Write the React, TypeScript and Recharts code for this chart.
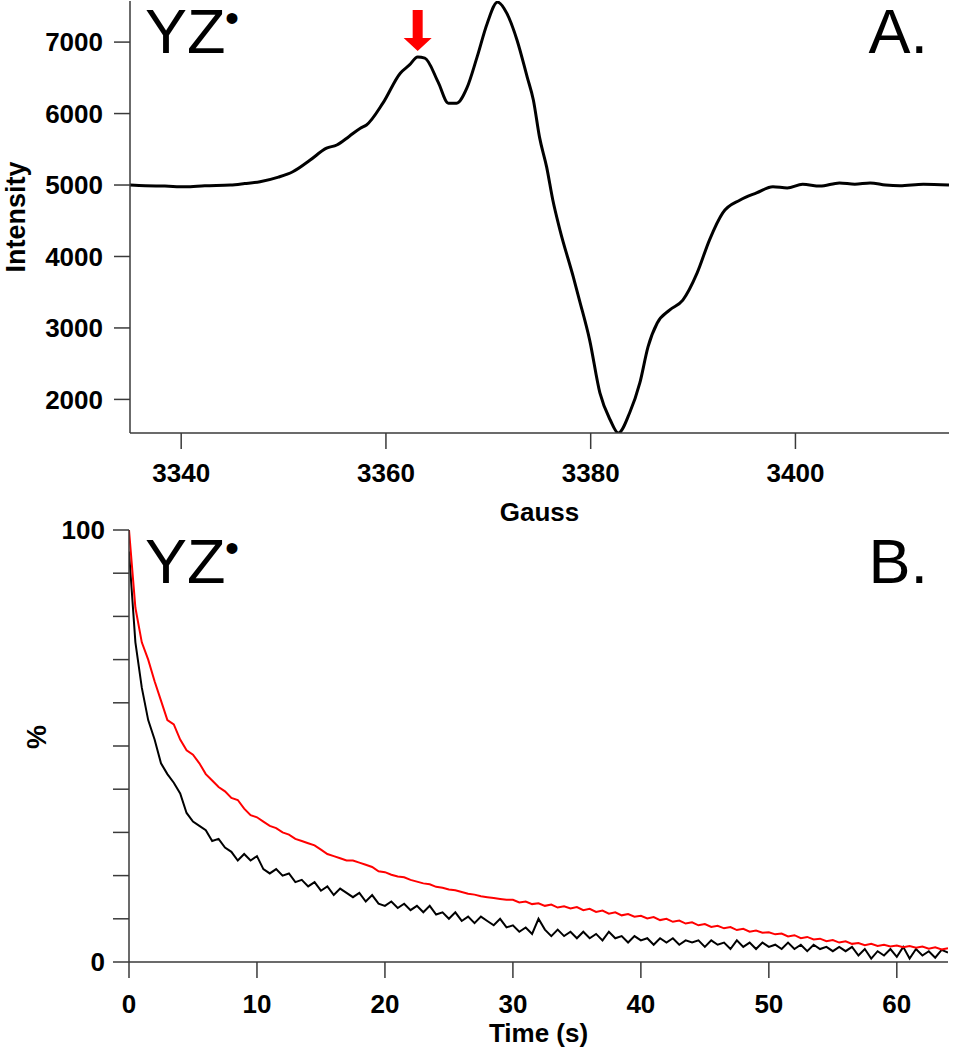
import React from "react";
import { LineChart, Line, XAxis, YAxis, ReferenceDot } from "recharts";

// Panel A: EPR spectrum
const gaussField = [
  3335.0, 3336.5, 3338.4, 3340.4, 3342.3, 3344.8, 3346.2, 3347.7, 3349.5, 3350.9,
  3352.6, 3354.2, 3355.2, 3356.4, 3357.5, 3358.1, 3359.7, 3361.4, 3362.3, 3363.1,
  3363.8, 3365.1, 3366.1, 3366.9, 3367.9, 3368.9, 3369.9, 3370.9, 3371.8, 3372.8,
  3373.8, 3374.4, 3375.0, 3375.7, 3376.3, 3377.0, 3378.3, 3378.9, 3379.9, 3380.9,
  3381.9, 3382.7, 3383.8, 3384.8, 3385.6, 3386.5, 3387.7, 3389.0, 3390.4, 3391.6,
  3392.9, 3394.6, 3396.2, 3397.8, 3399.2, 3400.7, 3402.4, 3404.3, 3405.8, 3407.3,
  3408.8, 3410.2, 3412.5, 3415.0,
];
const intensity = [
  5000, 4990, 4985, 4975, 4990, 5000, 5020, 5046, 5110, 5186,
  5350, 5515, 5560, 5680, 5795, 5840, 6145, 6565, 6680, 6790,
  6775, 6440, 6145, 6145, 6355, 6790, 7265, 7560, 7405, 7030,
  6510, 6190, 5670, 5250, 4790, 4370, 3715, 3390, 2830, 2090,
  1715, 1530, 1810, 2230, 2735, 3070, 3250, 3390, 3770, 4230,
  4610, 4790, 4890, 4975, 4960, 5010, 4985, 5030, 5010, 5030,
  5000, 4990, 5010, 5000,
];
const gaussTicks = [3340, 3360, 3380, 3400];
const intensityTicks = [2000, 3000, 4000, 5000, 6000, 7000];
const arrowTarget = { gauss: 3363.1, intensity: 6790 };

// Panel B: decay traces (%)
const decayTime = [
  0, 0.5, 1, 1.5, 2, 2.5, 3, 3.5, 4, 4.5, 5, 5.5, 6, 6.5, 7, 7.5, 8, 8.5, 9, 9.5,
  10, 10.5, 11, 11.5, 12, 12.5, 13, 13.5, 14, 14.5, 15, 15.5, 16, 16.5, 17, 17.5, 18, 18.5, 19, 19.5,
  20, 20.5, 21, 21.5, 22, 22.5, 23, 23.5, 24, 24.5, 25, 25.5, 26, 26.5, 27, 27.5, 28, 28.5, 29, 29.5,
  30, 30.5, 31, 31.5, 32, 32.5, 33, 33.5, 34, 34.5, 35, 35.5, 36, 36.5, 37, 37.5, 38, 38.5, 39, 39.5,
  40, 40.5, 41, 41.5, 42, 42.5, 43, 43.5, 44, 44.5, 45, 45.5, 46, 46.5, 47, 47.5, 48, 48.5, 49, 49.5,
  50, 50.5, 51, 51.5, 52, 52.5, 53, 53.5, 54, 54.5, 55, 55.5, 56, 56.5, 57, 57.5, 58, 58.5, 59, 59.5,
  60, 60.5, 61, 61.5, 62, 62.5, 63, 63.5, 64,
];
const blackDecay = [
  95, 74, 63.5, 56, 51.5, 46, 43.5, 41.5, 39, 34.5, 32.5, 31.5, 30.5, 28, 28.5, 26.5, 25.5, 23.5, 25, 23.5,
  24.5, 21.5, 20.5, 21.5, 20, 20.5, 18.5, 19, 17.5, 18.5, 16.5, 17.5, 15.5, 17, 16, 15, 16, 14, 15.5, 13.5,
  13, 14, 12.5, 13.5, 12, 13, 11.5, 13, 11, 11.5, 10, 11.5, 9.5, 10.5, 9, 10.5, 9.5, 8.5, 10, 8,
  8.5, 7, 8, 6.5, 10, 7.5, 6, 7.5, 6, 7, 5.5, 7, 5.5, 6.5, 5, 7, 5.5, 6, 4.5, 6,
  5, 5.5, 4, 5.5, 4.5, 5.5, 4, 5, 4.5, 5, 3.5, 5, 4, 4.5, 3, 5, 3.5, 4.5, 3, 4.5,
  3.5, 4, 3, 4.5, 3, 4, 2.5, 4, 3, 3.5, 2.5, 3.5, 2.5, 3.5, 1.5, 3, 0.8, 2.5, 1.5, 3,
  1.2, 3.5, 0.8, 3, 1.5, 2.5, 1, 2.8, 2.2,
];
const redDecay = [
  100, 82, 74, 70, 65, 60.5, 56, 55, 51.5, 49, 48, 46, 43.5, 42, 40.5, 39.5, 38, 37.5, 35.5, 34,
  33.5, 32.5, 31.5, 31, 30, 29.5, 28.5, 28, 27.5, 27, 26, 25, 24.5, 24, 23.5, 23.5, 23, 22.5, 22, 21,
  20.8, 20.2, 19.8, 19.6, 19, 18.6, 18.2, 18, 17.4, 17.2, 16.8, 16.6, 16.2, 15.8, 15.6, 15.2, 15, 14.8, 14.6, 14.4,
  14.4, 13.8, 14.0, 13.4, 13.6, 13.0, 13.3, 12.6, 12.9, 12.4, 12.7, 12.0, 12.3, 11.6, 11.9, 11.2, 11.5, 10.8, 11.1, 10.5,
  10.7, 10.1, 10.4, 9.7, 10.0, 9.3, 9.6, 8.9, 9.2, 8.5, 8.8, 8.1, 8.4, 7.8, 8.1, 7.4, 7.7, 7.0, 7.3, 6.8,
  6.9, 6.4, 6.6, 5.9, 6.2, 5.5, 5.8, 5.2, 5.4, 4.8, 5.1, 4.5, 4.8, 4.2, 4.4, 3.9, 4.2, 3.7, 4.0, 3.6,
  3.8, 3.4, 3.7, 3.3, 3.6, 3.1, 3.4, 2.9, 3.2,
];
const timeTicks = [0, 10, 20, 30, 40, 50, 60];
const percentTicks = [0, 10, 20, 30, 40, 50, 60, 70, 80, 90, 100];

const FONT = "'Liberation Sans', Arial, Helvetica, sans-serif";
const AXIS = "#3a3a3a";
const tickStyle = { fill: "#000", fontSize: 26, fontWeight: 700, fontFamily: FONT };
const axisLine = { stroke: AXIS, strokeWidth: 1.5 };

const spectrum = gaussField.map((g, i) => ({ gauss: g, intensity: intensity[i] }));
const decay = decayTime.map((t, i) => ({ t, black: blackDecay[i], red: redDecay[i] }));

// rotated y-axis title, baseline at a fixed x
const verticalTitle = (text: string, baselineX: number, shiftY = 0) => (props: any) => {
  const vb = props.viewBox || {};
  const cy = vb.y + vb.height / 2 + shiftY;
  return (
    <text
      x={baselineX}
      y={cy}
      transform={`rotate(-90 ${baselineX} ${cy})`}
      textAnchor="middle"
      fill="#000"
      fontSize={27}
      fontWeight={700}
      fontFamily={FONT}
    >
      {text}
    </text>
  );
};

const DownArrow = (props: any) => {
  const { cx, cy } = props;
  if (cx == null || cy == null) return null;
  const pts = [
    [cx - 5, cy - 47],
    [cx + 5, cy - 47],
    [cx + 5, cy - 19],
    [cx + 14, cy - 19],
    [cx, cy - 6],
    [cx - 14, cy - 19],
    [cx - 5, cy - 19],
  ]
    .map((p) => p.join(","))
    .join(" ");
  return <polygon points={pts} fill="#ff0000" />;
};

// "YZ•" radical label and panel letter
const PanelTag = ({ baseline, letter }: { baseline: number; letter: string }) => (
  <g fontFamily={FONT} fill="#000">
    <text x={145} y={baseline} fontSize={63}>
      YZ
    </text>
    <text x={232} y={baseline - 35} fontSize={40} textAnchor="middle" dominantBaseline="central">
      •
    </text>
    <text x={928} y={baseline} fontSize={63} textAnchor="end">
      {letter}
    </text>
  </g>
);

export default function App() {
  return (
    <div style={{ position: "absolute", left: 0, top: 0, width: 953, height: 1050, background: "#fff" }}>
      <div style={{ position: "absolute", left: 0, top: 0 }}>
        <LineChart width={953} height={528} data={spectrum} margin={{ top: 1, right: 4, bottom: 0, left: 0 }}>
          <XAxis
            dataKey="gauss"
            type="number"
            domain={[3335, 3415]}
            ticks={gaussTicks}
            allowDataOverflow
            height={95}
            tickSize={16}
            tickMargin={15}
            axisLine={axisLine}
            tickLine={axisLine}
            tick={tickStyle}
            label={{ value: "Gauss", position: "insideBottom", offset: 7, fill: "#000", fontSize: 26, fontWeight: 700, fontFamily: FONT }}
          />
          <YAxis
            type="number"
            domain={[1530, 7575]}
            ticks={intensityTicks}
            allowDataOverflow
            width={130}
            tickSize={16}
            tickMargin={11}
            axisLine={axisLine}
            tickLine={axisLine}
            tick={tickStyle}
            label={{ content: verticalTitle("Intensity", 25) }}
          />
          <XAxis xAxisId="top" orientation="top" type="number" domain={[0, 1]} height={0} tick={false} tickLine={false} axisLine={axisLine} />
          <YAxis yAxisId="right" orientation="right" type="number" domain={[0, 1]} width={0} tick={false} tickLine={false} axisLine={axisLine} />
          <Line
            type="monotone"
            dataKey="intensity"
            stroke="#000"
            strokeWidth={3}
            dot={false}
            isAnimationActive={false}
          />
          <ReferenceDot x={arrowTarget.gauss} y={arrowTarget.intensity} shape={<DownArrow />} />
          <PanelTag baseline={53} letter="A." />
        </LineChart>
      </div>
      <div style={{ position: "absolute", left: 0, top: 500 }}>
        <LineChart width={953} height={550} data={decay} margin={{ top: 30, right: 5, bottom: 0, left: 0 }}>
          <XAxis
            dataKey="t"
            type="number"
            domain={[0, 64]}
            ticks={timeTicks}
            allowDataOverflow
            height={88}
            tickSize={16}
            tickMargin={17}
            axisLine={axisLine}
            tickLine={axisLine}
            tick={tickStyle}
            label={{ value: "Time (s)", position: "insideBottom", offset: 8, fill: "#000", fontSize: 26, fontWeight: 700, fontFamily: FONT }}
          />
          <YAxis
            type="number"
            domain={[0, 100]}
            ticks={percentTicks}
            allowDataOverflow
            width={129}
            tickSize={16}
            tickMargin={8}
            axisLine={axisLine}
            tickLine={axisLine}
            tick={tickStyle}
            tickFormatter={(v: number) => (v === 0 || v === 100 ? String(v) : "")}
            label={{ content: verticalTitle("%", 46, -9) }}
          />
          <XAxis xAxisId="top" orientation="top" type="number" domain={[0, 1]} height={0} tick={false} tickLine={false} axisLine={axisLine} />
          <YAxis yAxisId="right" orientation="right" type="number" domain={[0, 1]} width={0} tick={false} tickLine={false} axisLine={axisLine} />
          <Line type="linear" dataKey="black" stroke="#000" strokeWidth={2} dot={false} isAnimationActive={false} />
          <Line type="linear" dataKey="red" stroke="#ff0000" strokeWidth={2} dot={false} isAnimationActive={false} />
          <PanelTag baseline={83} letter="B." />
        </LineChart>
      </div>
    </div>
  );
}
